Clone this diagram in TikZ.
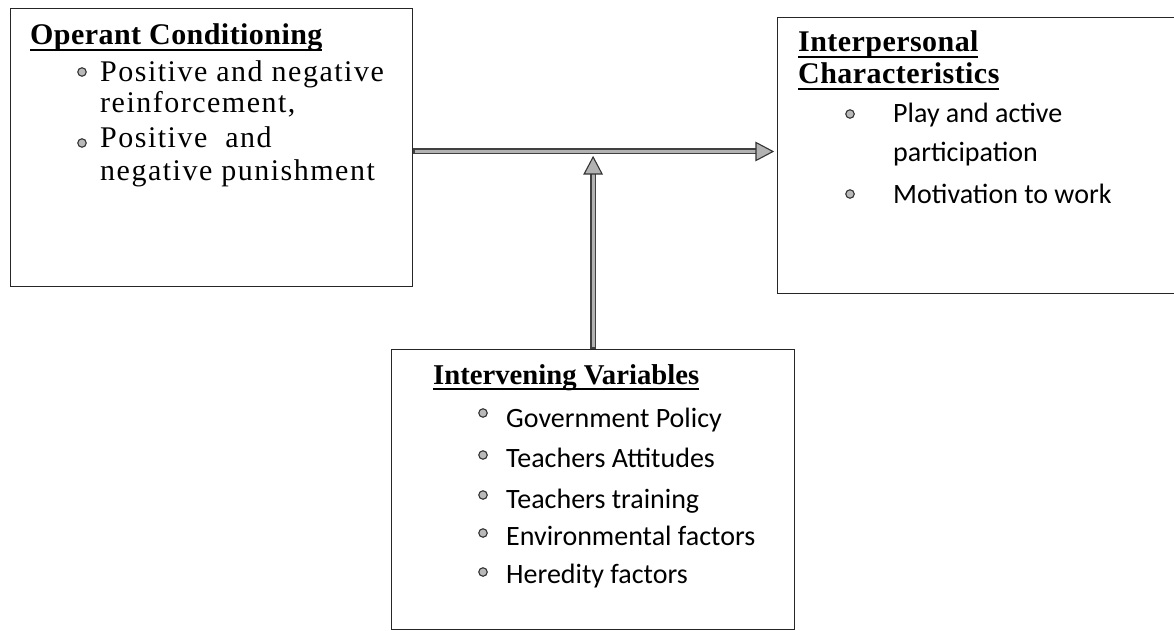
\documentclass[tikz,border=0pt]{standalone}
\usepackage{fontspec}
\setmainfont{Liberation Serif}
\newfontfamily\itemserif[LetterSpace=5]{Liberation Serif}
\newfontfamily\titleserif[LetterSpace=1.5]{Liberation Serif}
\newfontfamily\itemsans{Carlito}
\usetikzlibrary{calc}
\tikzset{
  box/.style={draw=black!85, line width=1.2pt, inner sep=0pt, anchor=north west},
  ttl/.style={anchor=base west, inner sep=0pt, font=\titleserif\bfseries\fontsize{30}{30}\selectfont},
  ttlb/.style={anchor=base west, inner sep=0pt, font=\bfseries\fontsize{28.7}{28.7}\selectfont},
  seritem/.style={anchor=base west, inner sep=0pt, font=\itemserif\fontsize{30}{30}\selectfont},
  sansitem/.style={anchor=base west, inner sep=0pt, font=\itemsans\fontsize{28}{28}\selectfont},
  bul/.style={circle, fill=gray!55, draw=black!80, line width=1.1pt, inner sep=0pt, minimum size=8.5pt},
  shaftdark/.style={draw=black!75, line width=6pt},
  shaftlight/.style={draw=gray!60, line width=2.8pt},
  headstyle/.style={fill=gray!60, draw=black!80, line width=1.1pt, line join=miter},
  uln/.style={draw=black, line width=1.8pt}
}
\begin{document}
\begin{tikzpicture}[x=1pt,y=-1pt]
\useasboundingbox (0,0) rectangle (1174,631);
% boxes
\node[box, minimum width=402, minimum height=278] (op) at (10,8) {};
\node[box, minimum width=399, minimum height=276] (ip) at (777,17) {};
\node[box, minimum width=403, minimum height=280] (iv) at (391,349) {};
% Operant Conditioning
\node[ttl] (t1) at (30,45) {Operant Conditioning};
\draw[uln] ([yshift=-5pt]t1.base west) -- ([yshift=-5pt,xshift=-1pt]t1.base east);
\node[bul] (b11) at (82,72) {};
\node[seritem] (i11) at (100,82) {Positive and negative};
\node[seritem] (i12) at (100,113) {reinforcement,};
\node[bul] (b12) at (82,143) {};
\node[seritem] (i13) at (100,148) {Positive\ \ and};
\node[seritem] (i14) at (100,180) {negative punishment};
% Interpersonal Characteristics
\node[ttl] (t2a) at (798,52) {Interpersonal};
\draw[uln] ([yshift=-5pt]t2a.base west) -- ([yshift=-5pt,xshift=-1pt]t2a.base east);
\node[ttl] (t2b) at (798,84) {Characteristics};
\draw[uln] ([yshift=-5pt]t2b.base west) -- ([yshift=-5pt,xshift=-1pt]t2b.base east);
\node[bul] (b21) at (850,114) {};
\node[sansitem] (i21) at (893,123) {Play and active};
\node[sansitem] (i22) at (893,162) {participation};
\node[bul] (b22) at (850,194) {};
\node[sansitem] (i23) at (893,204) {Motivation to work};
% Intervening Variables
\node[ttlb] (t3) at (433,384) {Intervening Variables};
\draw[uln] ([yshift=-5pt]t3.base west) -- ([yshift=-5pt]t3.base east);
\node[bul] (b31) at (483,413) {};
\node[sansitem] (i31) at (506,427) {Government Policy};
\node[bul] (b32) at (483,455) {};
\node[sansitem] (i32) at (506,467) {Teachers Attitudes};
\node[bul] (b33) at (483,495) {};
\node[sansitem] (i33) at (506,508) {Teachers training};
\node[bul] (b34) at (483,533) {};
\node[sansitem] (i34) at (506,545) {Environmental factors};
\node[bul] (b35) at (483,572) {};
\node[sansitem] (i35) at (506,583) {Heredity factors};
% connectors
\coordinate (yline) at (0,151.5);
\coordinate (ytip) at (0,157);
\coordinate (hs) at (op.east |- yline);
\coordinate (he) at ($(ip.west |- yline)+(-4,0)$);
\coordinate (vs) at (iv.north);
\coordinate (ve) at (iv.north |- ytip);
\draw[shaftdark] (hs) -- ($(he)+(-15,0)$);
\draw[shaftlight] ($(hs)+(2,0)$) -- ($(he)+(-15,0)$);
\filldraw[headstyle] (he) -- ($(he)+(-17,-9)$) -- ($(he)+(-17,9)$) -- cycle;
\draw[shaftdark] (vs) -- ($(ve)+(0,15)$);
\draw[shaftlight] ($(vs)+(0,-2)$) -- ($(ve)+(0,15)$);
\filldraw[headstyle] (ve) -- ($(ve)+(-9,17)$) -- ($(ve)+(9,17)$) -- cycle;
\end{tikzpicture}
\end{document}
